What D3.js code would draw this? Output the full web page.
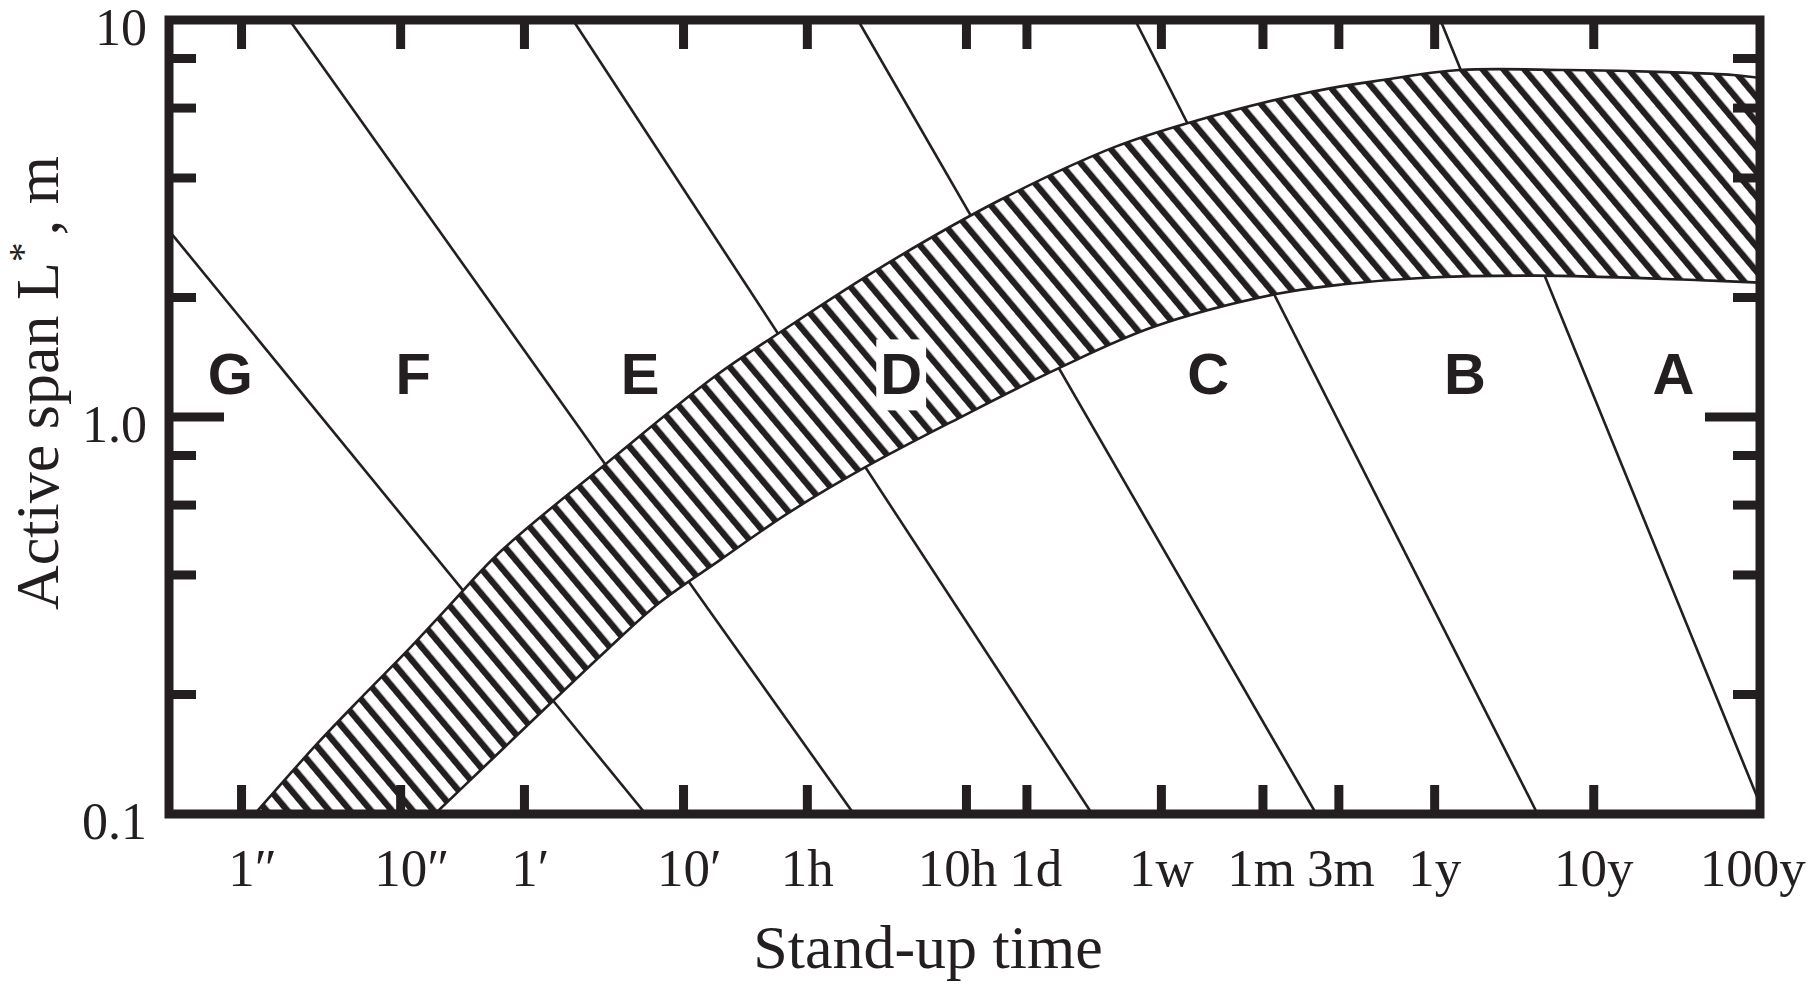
<!DOCTYPE html>
<html>
<head>
<meta charset="utf-8">
<script src="https://cdn.jsdelivr.net/npm/d3@7"></script>
<style>
  body { margin: 0; background: #fff; }
  svg { display: block; }
</style>
</head>
<body>
<svg id="chart" width="1807" height="987"></svg>
<script>
// ---- axis ticks -------------------------------------------------------
// stand-up time ticks, in seconds
const timeTicks  = [1, 10, 60, 600, 3600, 36000, 86400, 604800, 2.63e6, 7.89e6, 3.156e7, 3.156e8, 3.156e9];
const timeLabels = ["1″", "10″", "1′", "10′", "1h", "10h", "1d", "1w", "1m", "3m", "1y", "10y", "100y"];
// active span ticks, in metres
const spanMajor  = [0.1, 1, 10];
const spanLabels = ["0.1", "1.0", "10"];
const spanMinor  = [0.2, 0.4, 0.6, 0.8, 2, 4, 6, 8];

// ---- hatched band of observed roof spans (time s, span m) -------------
const bandUpper = [
  [1.21, 0.1], [3.02, 0.151], [5.88, 0.1995], [11.45, 0.262], [19.85, 0.332],
  [42.1, 0.457], [198, 0.766], [932, 1.261], [2388, 1.628], [10760, 2.40],
  [58500, 3.52], [3.09e5, 4.79], [9.28e5, 5.53], [4.9e6, 6.55], [1.49e7, 7.06],
  [4.49e7, 7.48], [2.14e8, 7.48], [9.1e8, 7.39], [2.37e9, 7.27], [3.5e9, 7.14]
];
const bandLower = [
  [16.4, 0.1], [34.9, 0.1336], [67.9, 0.1725], [204, 0.262], [421, 0.340],
  [1016, 0.436], [2680, 0.570], [8170, 0.744], [32300, 0.994], [1.33e5, 1.32],
  [5.36e5, 1.685], [3.18e6, 2.04], [8.5e6, 2.16], [2.59e7, 2.24], [1.37e8, 2.27],
  [1.47e9, 2.21], [3.5e9, 2.18]
];

// ---- rock-mass class boundaries (start / end points, time s, span m) ---
const boundaryStart = [[0.352, 2.94], [2.0, 10], [121, 10], [7480, 10], [4.13e5, 10], [3.43e7, 10]];
const boundaryEnd   = [[347, 0.1], [7060, 0.1], [2.22e5, 0.1], [5.69e6, 0.1], [1.40e8, 0.1], [3.37e9, 0.11]];

// ---- class letters ----------------------------------------------------
const classNames = ["G", "F", "E", "D", "C", "B", "A"];
const classTime  = [0.85, 12, 320, 1.4e4, 1.19e6, 4.9e7, 1.0e9];
const classSpan  = 1.14;

// ---- layout -----------------------------------------------------------
const ink = "#231f20";
const serif = "'Liberation Serif', 'Times New Roman', serif";
const sans = "'Liberation Sans', Arial, Helvetica, sans-serif";
const plot = { left: 169, right: 1760, top: 20, bottom: 814 };

const x = d3.scaleLog().domain([0.35, 3.5e9]).range([plot.left, plot.right]);
const y = d3.scaleLog().domain([0.1, 10]).range([plot.bottom, plot.top]);

const svg = d3.select("#chart");
const defs = svg.append("defs");

defs.append("clipPath").attr("id", "plotClip")
  .append("rect")
  .attr("x", plot.left).attr("y", plot.top)
  .attr("width", plot.right - plot.left).attr("height", plot.bottom - plot.top);

// diagonal hatching running down to the right
const hatch = defs.append("pattern")
  .attr("id", "hatch")
  .attr("patternUnits", "userSpaceOnUse")
  .attr("width", 16).attr("height", 16)
  .attr("patternTransform", "rotate(-40)");
hatch.append("rect").attr("width", 16).attr("height", 16).attr("fill", "#fff");
hatch.append("rect").attr("x", 0).attr("width", 6.3).attr("height", 16).attr("fill", ink);

const plotArea = svg.append("g").attr("clip-path", "url(#plotClip)");

// class boundary lines
plotArea.append("g")
  .selectAll("line")
  .data(boundaryStart.map((s, i) => [s, boundaryEnd[i]]))
  .join("line")
  .attr("x1", d => x(d[0][0])).attr("y1", d => y(d[0][1]))
  .attr("x2", d => x(d[1][0])).attr("y2", d => y(d[1][1]))
  .attr("stroke", ink).attr("stroke-width", 2.6);

// hatched band
const bandLine = d3.line()
  .x(d => x(d[0])).y(d => y(d[1]))
  .curve(d3.curveCatmullRom.alpha(0.5));
const upperD = bandLine(bandUpper);
const lowerD = bandLine(bandLower.slice().reverse());
plotArea.append("path")
  .attr("d", upperD + "L" + lowerD.slice(1) + "Z")
  .attr("fill", "url(#hatch)")
  .attr("stroke", ink).attr("stroke-width", 2.6)
  .attr("stroke-linejoin", "round");

// class letters
const letters = plotArea.append("g");
classNames.forEach((name, i) => {
  const g = letters.append("g");
  const t = g.append("text")
    .attr("x", x(classTime[i])).attr("y", y(classSpan))
    .attr("text-anchor", "middle")
    .attr("font-family", sans).attr("font-weight", "bold")
    .attr("font-size", 58).attr("fill", ink)
    .text(name);
  if (name === "D") {
    const b = t.node().getBBox();
    g.insert("rect", "text")
      .attr("x", b.x - 4).attr("y", b.y - 2)
      .attr("width", b.width + 8).attr("height", b.height + 6)
      .attr("fill", "#fff");
  }
});

// frame
const axes = svg.append("g").attr("stroke", ink).attr("stroke-width", 9);
axes.append("rect")
  .attr("x", plot.left).attr("y", plot.top)
  .attr("width", plot.right - plot.left).attr("height", plot.bottom - plot.top)
  .attr("fill", "none");

// time ticks on bottom and top edges
const innerTimeTicks = timeTicks.filter(t => x(t) > plot.left + 10 && x(t) < plot.right - 10);
axes.selectAll("line.tb").data(innerTimeTicks).join("line")
  .attr("class", "tb")
  .attr("x1", d => x(d)).attr("x2", d => x(d))
  .attr("y1", plot.bottom).attr("y2", plot.bottom - 29);
axes.selectAll("line.tt").data(innerTimeTicks).join("line")
  .attr("class", "tt")
  .attr("x1", d => x(d)).attr("x2", d => x(d))
  .attr("y1", plot.top).attr("y2", plot.top + 29);

// span ticks on left and right edges
const spanTickData = spanMinor.map(v => ({ v, len: 27 }))
  .concat(spanMajor.filter(v => v > 0.1 && v < 10).map(v => ({ v, len: 55 })));
axes.selectAll("line.yl").data(spanTickData).join("line")
  .attr("class", "yl")
  .attr("x1", plot.left).attr("x2", d => plot.left + d.len)
  .attr("y1", d => y(d.v)).attr("y2", d => y(d.v));
axes.selectAll("line.yr").data(spanTickData).join("line")
  .attr("class", "yr")
  .attr("x1", plot.right).attr("x2", d => plot.right - d.len)
  .attr("y1", d => y(d.v)).attr("y2", d => y(d.v));

// time tick labels: for second/minute marks the numeral sits on the tick
const tLabels = svg.append("g")
  .attr("font-family", serif).attr("font-size", 53).attr("fill", ink);
const labelNodes = timeTicks.map((t, i) => {
  const label = timeLabels[i];
  const m = label.match(/^(\d+)([′″]?)$/);
  const txt = tLabels.append("text").attr("y", 886);
  let left;
  if (m && m[2]) {
    const num = txt.append("tspan").text(m[1]);
    txt.append("tspan").text(m[2]);
    left = x(t) - num.node().getComputedTextLength() / 2;
  } else {
    txt.text(label);
    left = x(t) - txt.node().getComputedTextLength() / 2;
  }
  txt.attr("x", left);
  return { txt, left, width: txt.node().getComputedTextLength() };
});
// push apart neighbouring labels that would touch
const minGap = 12;
for (let i = 1; i < labelNodes.length; i++) {
  const a = labelNodes[i - 1], b = labelNodes[i];
  const overlap = a.left + a.width + minGap - b.left;
  if (overlap > 0) {
    a.left -= overlap / 2;
    b.left += overlap / 2;
    a.txt.attr("x", a.left);
    b.txt.attr("x", b.left);
  }
}

// span tick labels
svg.append("g")
  .attr("font-family", serif).attr("font-size", 52).attr("fill", ink)
  .selectAll("text").data(spanMajor).join("text")
  .attr("x", 147).attr("y", d => y(d) + 25)
  .attr("text-anchor", "end")
  .text((d, i) => spanLabels[i]);

// axis titles
svg.append("text")
  .attr("x", 928).attr("y", 968)
  .attr("text-anchor", "middle")
  .attr("font-family", serif).attr("font-size", 62).attr("fill", ink)
  .text("Stand-up time");

const yTitle = svg.append("text")
  .attr("transform", "translate(58,383) rotate(-90)")
  .attr("text-anchor", "middle")
  .attr("font-family", serif).attr("font-size", 62).attr("fill", ink);
yTitle.append("tspan").text("Active span L");
yTitle.append("tspan").attr("dy", -22).attr("font-size", 40).text("*");
yTitle.append("tspan").attr("dy", 22).attr("dx", 7).text(", m");
</script>
</body>
</html>
